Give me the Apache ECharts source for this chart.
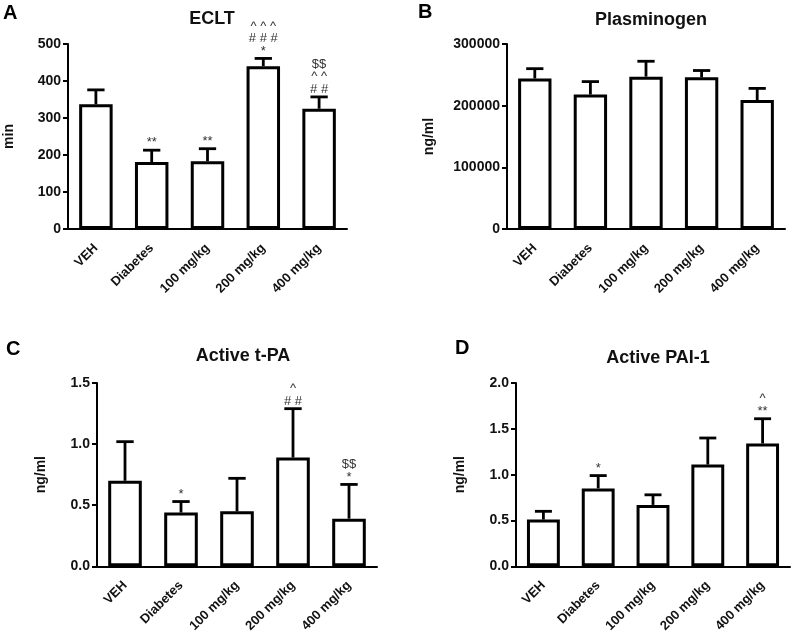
<!DOCTYPE html>
<html><head><meta charset="utf-8">
<script src="https://cdn.jsdelivr.net/npm/echarts@6/dist/echarts.min.js"></script>
<style>html,body{margin:0;padding:0;background:#fff}#c{width:796px;height:635px}</style>
</head><body><div id="c"></div>
<script>
const categories = ['VEH', 'Diabetes', '100 mg/kg', '200 mg/kg', '400 mg/kg'];

const ecltMean = [337, 181, 183, 440, 325];
const ecltSem  = [39, 32, 34, 21, 32];
const ecltAnno = [[], ['**'], ['**'], ['*', '# # #', '^ ^ ^'], ['# #', '^ ^', '$$']];

const plasMean = [244000, 218000, 247000, 246000, 209000];
const plasSem  = [16000, 21000, 25000, 11000, 19000];
const plasAnno = [[], [], [], [], []];

const tpaMean = [0.70, 0.44, 0.45, 0.89, 0.39];
const tpaSem  = [0.32, 0.09, 0.27, 0.40, 0.28];
const tpaAnno = [[], ['*'], [], ['# #', '^'], ['*', '$$']];

const paiMean = [0.51, 0.85, 0.67, 1.11, 1.34];
const paiSem  = [0.09, 0.14, 0.11, 0.29, 0.27];
const paiAnno = [[], ['*'], [], [], ['**', '^']];

const panels = [
  {title: 'ECLT', letter: 'A', yName: 'min', mean: ecltMean, sem: ecltSem, anno: ecltAnno, max: 500, interval: 100, dec: 0,
   grid: {left: 68, top: 44, width: 279, height: 185}, titleX: 207, titleY: 5, letterX: 3, letterY: 3, nameGap: 52},
  {title: 'Plasminogen', letter: 'B', yName: 'ng/ml', mean: plasMean, sem: plasSem, anno: plasAnno, max: 300000, interval: 100000, dec: 0,
   grid: {left: 507, top: 44, width: 278, height: 185}, titleX: 646, titleY: 6, letterX: 418, letterY: 2, nameGap: 71},
  {title: 'Active t-PA', letter: 'C', yName: 'ng/ml', mean: tpaMean, sem: tpaSem, anno: tpaAnno, max: 1.5, interval: 0.5, dec: 1,
   grid: {left: 97, top: 383, width: 280, height: 184}, titleX: 238, titleY: 342, letterX: 6, letterY: 339, nameGap: 49},
  {title: 'Active PAI-1', letter: 'D', yName: 'ng/ml', mean: paiMean, sem: paiSem, anno: paiAnno, max: 2.0, interval: 0.5, dec: 1,
   grid: {left: 516, top: 383, width: 274, height: 184}, titleX: 653, titleY: 344, letterX: 455, letterY: 338, nameGap: 49}
];

const FONT = '"Liberation Sans", Arial, sans-serif';
const option = {
  animation: false,
  backgroundColor: '#fff',
  title: [], grid: [], xAxis: [], yAxis: [], series: [], graphic: []
};

panels.forEach((p, i) => {
  option.title.push({text: p.title, left: p.titleX, top: p.titleY, textAlign: 'center',
    textStyle: {fontFamily: FONT, fontWeight: 'bold', fontSize: 18, color: '#111'}});
  option.graphic.push({type: 'text', left: p.letterX, top: p.letterY,
    style: {text: p.letter, font: 'bold 20px ' + FONT, fill: '#000'}});
  option.grid.push(Object.assign({containLabel: false}, p.grid));
  option.xAxis.push({
    type: 'category', gridIndex: i, data: categories,
    axisLine: {lineStyle: {color: '#000', width: 2}},
    axisTick: {alignWithLabel: true, length: 5, lineStyle: {color: '#000', width: 2}},
    axisLabel: {rotate: 45, margin: 17, interval: 0, fontFamily: FONT, fontWeight: 'bold', fontSize: 13, color: '#111'}
  });
  option.yAxis.push({
    type: 'value', gridIndex: i, min: 0, max: p.max, interval: p.interval,
    name: p.yName, nameLocation: 'middle', nameGap: p.nameGap, nameRotate: 90,
    nameTextStyle: {fontFamily: FONT, fontWeight: 'bold', fontSize: 14, color: '#111'},
    axisLine: {show: true, lineStyle: {color: '#000', width: 2}},
    axisTick: {show: true, length: 5, lineStyle: {color: '#000', width: 2}},
    splitLine: {show: false},
    axisLabel: {margin: 7, fontFamily: FONT, fontWeight: 'bold', fontSize: 14, color: '#111',
      formatter: v => v.toFixed(p.dec)}
  });
  option.series.push({
    type: 'bar', xAxisIndex: i, yAxisIndex: i, data: p.mean, barWidth: '60%',
    itemStyle: {color: '#fff', borderColor: '#000', borderWidth: 3}
  });
  const errData = p.mean.map((m, k) => [k, m, m + p.sem[k]]);
  option.series.push({
    type: 'custom', xAxisIndex: i, yAxisIndex: i, data: errData, z: 3,
    renderItem: (params, api) => {
      const k = api.value(0);
      const p0 = api.coord([k, api.value(1)]);
      const p1 = api.coord([k, api.value(2)]);
      const bw = api.size([1, 0])[0];
      const cap = bw * 0.155;
      const st = {stroke: '#000', lineWidth: 2.8};
      const children = [
        {type: 'line', shape: {x1: p0[0], y1: p0[1], x2: p1[0], y2: p1[1]}, style: st},
        {type: 'line', shape: {x1: p1[0] - cap, y1: p1[1], x2: p1[0] + cap, y2: p1[1]}, style: st}
      ];
      const lines = p.anno[params.dataIndex] || [];
      lines.forEach((t, j) => {
        children.push({type: 'text', style: {text: t, x: p1[0], y: p1[1] - 1 - j * 12.5,
          textAlign: 'center', textVerticalAlign: 'bottom', font: '13px ' + FONT, fill: '#333'}});
      });
      return {type: 'group', children};
    }
  });
});

const chart = echarts.init(document.getElementById('c'), null, {renderer: 'canvas'});
chart.setOption(option);
</script></body></html>
